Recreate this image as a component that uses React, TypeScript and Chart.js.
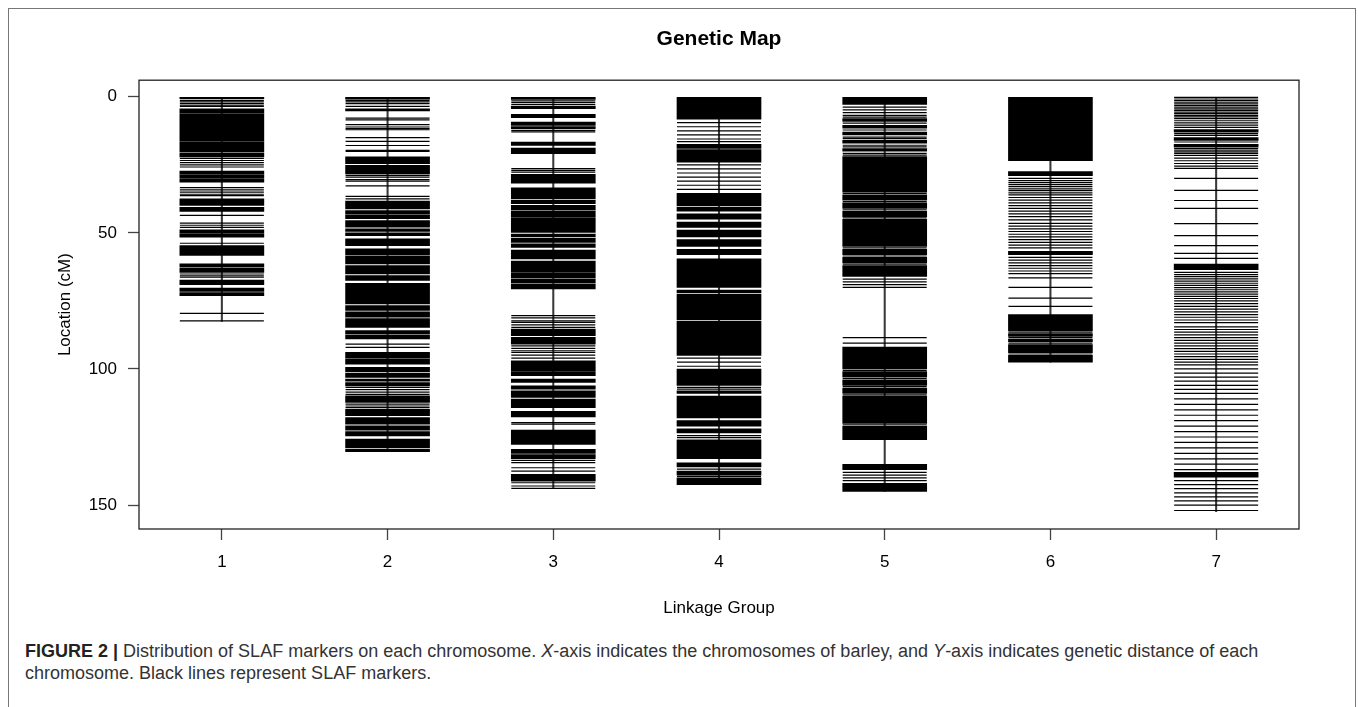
import React, { useEffect, useRef } from 'react';
import { Chart, registerables } from 'chart.js';

Chart.register(...registerables);

// ---------------- data ----------------
const groups = ['1', '2', '3', '4', '5', '6', '7'];
const chromosomeLengths = [82.5, 130.4, 144.0, 142.5, 145.0, 97.5, 152.4];
const yTicks = [0, 50, 100, 150];

// dense marker clusters [start cM, end cM]
const chr1Blocks = [[0, 0.7], [4.4, 6.0], [6.3, 16.4], [16.7, 20.3], [20.8, 22.1], [27.3, 28.4], [28.7, 30.0], [30.3, 31.4], [37.5, 39.9], [40.6, 42.1], [48.9, 50.2], [50.5, 51.6], [54.7, 58.3], [61.4, 62.6], [63.0, 64.5], [67.3, 69.0], [70.3, 71.5], [71.9, 73.1]];
const chr1Markers = [1.3, 1.9, 2.5, 3.1, 3.5, 22.6, 23.4, 24.2, 25.0, 25.8, 33.4, 34.2, 35.0, 35.8, 36.3, 43.6, 46.4, 47.2, 48.0, 53.8, 65.1, 65.8, 66.3, 79.6, 82.3];

const chr2Blocks = [[0, 0.9], [4.4, 5.2], [22.1, 24.6], [25.2, 28.3], [38.3, 41.2], [41.8, 43.0], [43.4, 44.8], [45.5, 47.9], [48.5, 49.5], [50.0, 51.0], [52.2, 54.7], [55.9, 58.0], [58.4, 61.4], [62.0, 65.1], [65.7, 67.5], [68.5, 76.1], [76.7, 78.5], [79.0, 81.0], [81.5, 84.7], [85.9, 87.0], [87.5, 89.0], [93.9, 96.0], [96.4, 98.2], [99.4, 101.0], [101.5, 103.1], [103.7, 104.5], [105.0, 106.2], [109.9, 112.3], [114.8, 117.2], [117.9, 120.3], [120.9, 122.5], [123.0, 124.6], [125.8, 128.9], [129.4, 130.4]];
const chr2Markers = [1.3, 1.9, 2.5, 3.5, 7.8, 8.5, 10.2, 11.1, 11.7, 12.1, 15.0, 16.4, 17.9, 19.7, 20.1, 28.9, 29.5, 30.4, 31.0, 32.7, 36.6, 37.5, 90.9, 92.1, 106.8, 107.6, 108.5, 109.3, 112.9, 113.6, 114.2];

const chr3Blocks = [[0, 1.0], [3.4, 4.4], [6.4, 7.7], [9.3, 10.5], [10.9, 11.7], [16.6, 17.9], [18.8, 20.9], [28.5, 31.7], [33.4, 37.5], [38.0, 39.3], [39.9, 41.5], [41.9, 44.0], [44.4, 45.5], [45.7, 49.8], [50.4, 51.5], [52.0, 53.5], [54.0, 55.3], [56.3, 59.6], [60.4, 64.5], [64.9, 66.5], [66.9, 68.5], [68.9, 70.6], [85.3, 87.8], [88.4, 90.9], [97.0, 100.7], [101.0, 102.5], [103.7, 104.9], [106.2, 107.4], [108.0, 110.5], [111.1, 114.2], [115.6, 117.6], [122.5, 127.7], [129.5, 131.0], [131.5, 133.0], [138.7, 141.2]];
const chr3Markers = [1.5, 2.1, 2.8, 12.3, 12.9, 26.4, 27.0, 27.7, 80.4, 81.2, 82.3, 82.9, 83.8, 84.7, 91.5, 92.4, 93.3, 93.9, 94.9, 96.0, 119.7, 120.3, 133.6, 134.4, 136.3, 137.5, 141.8, 143.0, 143.9];

const chr4Blocks = [[0, 8.2], [17.5, 19.0], [19.4, 24.0], [35.5, 40.0], [40.5, 42.0], [43.0, 45.0], [46.0, 48.0], [49.0, 51.5], [52.5, 55.0], [56.0, 58.0], [59.5, 70.0], [71.0, 72.0], [72.5, 82.0], [82.5, 95.0], [100.0, 106.0], [108.0, 109.0], [110.0, 118.0], [119.0, 121.0], [122.0, 123.5], [126.0, 133.0], [134.5, 136.0], [137.5, 139.0], [140.0, 142.5]];
const chr4Markers = [9.5, 11.0, 12.5, 14.0, 15.5, 16.5, 25.0, 26.5, 28.0, 29.5, 31.0, 32.5, 34.0, 96.0, 97.5, 99.0, 106.8, 107.4, 124.5, 125.2, 136.8, 139.5];

const chr5Blocks = [[0, 2.8], [8.0, 9.0], [10.5, 11.5], [13.0, 14.0], [16.0, 17.0], [19.0, 20.0], [22.0, 35.0], [36.0, 38.0], [39.0, 41.0], [42.0, 44.0], [45.0, 55.0], [56.0, 58.0], [59.0, 61.0], [62.0, 66.0], [92.0, 100.0], [101.0, 103.0], [104.0, 106.0], [107.0, 109.0], [110.0, 120.0], [121.0, 126.0], [135.0, 137.0], [142.0, 145.0]];
const chr5Markers = [3.8, 4.8, 5.8, 6.8, 7.5, 9.7, 12.2, 14.8, 15.4, 17.8, 18.4, 20.8, 21.4, 35.5, 38.5, 41.5, 44.5, 55.5, 58.5, 61.5, 67.0, 68.0, 69.0, 70.0, 88.5, 90.5, 100.5, 103.5, 106.5, 109.5, 120.5, 138.0, 139.0, 140.0, 141.0];

const chr6Blocks = [[0, 23.5], [27.5, 29.0], [56.8, 58.0], [80.0, 86.0], [87.0, 88.0], [89.0, 90.0], [91.0, 94.0], [95.0, 97.5]];
const chr6Markers = [30.0, 30.8, 31.5, 32.3, 33.0, 33.8, 34.5, 35.3, 36.0, 37.0, 38.0, 39.0, 40.0, 41.0, 42.0, 43.0, 44.0, 45.2, 46.5, 47.5, 48.5, 49.5, 50.5, 51.5, 52.5, 53.5, 54.5, 55.5, 59.0, 60.0, 61.0, 62.0, 63.0, 64.0, 65.0, 66.5, 70.0, 74.0, 77.0, 86.5, 88.5, 90.5, 94.5];

const chr7Blocks = [[12.0, 13.0], [15.0, 16.0], [17.5, 18.5], [61.5, 63.5], [138.0, 139.8]];
const chr7Markers = [0.2, 0.8, 1.4, 2.0, 2.6, 3.2, 3.8, 4.4, 5.0, 5.6, 6.2, 6.8, 7.4, 8.0, 8.8, 9.6, 10.4, 11.2, 13.5, 14.2, 16.6, 19.0, 19.6, 20.2, 20.8, 21.5, 22.5, 23.5, 24.5, 25.5, 26.3, 30.0, 34.4, 38.1, 41.0, 46.6, 51.0, 54.7, 57.5, 59.4, 64.5, 65.3, 66.1, 66.9, 67.7, 68.5, 69.3, 70.1, 70.9, 71.7, 72.5, 73.3, 74.1, 75.0, 76.0, 77.0, 78.0, 79.0, 80.0, 81.0, 82.0, 83.0, 84.5, 85.5, 86.5, 87.5, 88.5, 89.5, 90.5, 91.5, 92.5, 93.5, 94.5, 95.5, 96.5, 97.5, 98.5, 100.0, 101.5, 103.0, 104.5, 106.0, 107.5, 109.0, 111.0, 113.0, 115.0, 117.0, 119.0, 121.0, 123.0, 125.0, 127.0, 129.0, 131.0, 133.0, 135.0, 137.0, 141.0, 142.5, 144.0, 145.5, 147.0, 148.5, 150.0, 152.0];

const FONT = '"Liberation Sans", Arial, Helvetica, sans-serif';

const boxPlugin = {
  id: 'plotBox',
  afterDatasetsDraw(chart: any) {
    const { ctx, chartArea } = chart;
    ctx.save();
    ctx.strokeStyle = '#222';
    ctx.lineWidth = 1.3;
    ctx.strokeRect(chartArea.left, chartArea.top, chartArea.right - chartArea.left, chartArea.bottom - chartArea.top);
    ctx.restore();
  },
};

export default function App() {
  const ref = useRef<HTMLCanvasElement>(null);

  useEffect(() => {
    const blocks = [chr1Blocks, chr2Blocks, chr3Blocks, chr4Blocks, chr5Blocks, chr6Blocks, chr7Blocks];
    const markers = [chr1Markers, chr2Markers, chr3Markers, chr4Markers, chr5Markers, chr6Markers, chr7Markers];
    const blockData = blocks.flatMap((bl, i) => bl.map(([a, b]) => ({ x: i + 1, y: [a, b] })));
    const markerData = markers.flatMap((m, i) => m.map((p) => ({ x: i + 1, y: p })));
    const stemData = chromosomeLengths.map((len, i) => ({ x: i + 1, y: [0, len] }));

    const tickFont = { family: FONT, size: 17 };
    const gridCfg = {
      display: true,
      drawOnChartArea: false,
      drawTicks: true,
      tickLength: 11,
      tickColor: '#444',
      tickWidth: 1.3,
      offset: false,
    };

    const chart = new Chart(ref.current as HTMLCanvasElement, {
      type: 'bar',
      data: {
        datasets: [
          {
            type: 'scatter',
            data: markerData as any,
            pointStyle: 'line',
            pointRadius: 42,
            pointHoverRadius: 42,
            borderColor: '#000',
            backgroundColor: '#000',
            borderWidth: 1.2,
            order: 0,
          } as any,
          {
            type: 'bar',
            data: blockData as any,
            backgroundColor: '#000',
            borderWidth: 0,
            barThickness: 84,
            grouped: false,
            order: 1,
          } as any,
          {
            type: 'bar',
            data: stemData as any,
            backgroundColor: '#3a3a3a',
            borderWidth: 0,
            barThickness: 1.4,
            grouped: false,
            order: 2,
          } as any,
        ],
      },
      options: {
        responsive: false,
        animation: false,
        devicePixelRatio: 1,
        events: [],
        layout: { padding: { left: 55, right: 59, top: 0, bottom: 9 } },
        scales: {
          x: {
            type: 'linear',
            min: 0.5,
            max: 7.5,
            offset: false,
            grid: gridCfg as any,
            border: { display: false },
            afterBuildTicks: (s: any) => {
              s.ticks = groups.map((_, i) => ({ value: i + 1 }));
            },
            afterFit: (s: any) => {
              s.height = 92;
            },
            ticks: {
              font: tickFont,
              color: '#000',
              padding: 12,
              maxRotation: 0,
              autoSkip: false,
              callback: (_v: any, i: number) => groups[i],
            },
            title: {
              display: true,
              text: 'Linkage Group',
              font: tickFont,
              color: '#000',
              padding: { top: 0, bottom: 2 },
            },
          },
          y: {
            type: 'linear',
            reverse: true,
            min: -6.1,
            max: 158.8,
            grid: gridCfg as any,
            border: { display: false },
            afterBuildTicks: (s: any) => {
              s.ticks = yTicks.map((v) => ({ value: v }));
            },
            afterFit: (s: any) => {
              s.width = 84;
            },
            ticks: {
              font: tickFont,
              color: '#000',
              padding: 11,
              callback: (v: any) => String(v),
            },
            title: {
              display: true,
              text: 'Location (cM)',
              font: tickFont,
              color: '#000',
              padding: 0,
            },
          },
        },
        plugins: {
          legend: { display: false },
          tooltip: { enabled: false },
          title: {
            display: true,
            fullSize: false,
            text: 'Genetic Map',
            font: { family: FONT, size: 21, weight: 'bold' },
            color: '#000',
            padding: { top: 27, bottom: 28 },
          },
        },
      },
      plugins: [boxPlugin],
    });
    return () => chart.destroy();
  }, []);

  return (
    <div style={{ position: 'fixed', left: 0, top: 0, width: 1358, height: 707, overflow: 'hidden', background: '#fff' }}>
      <div
        style={{
          position: 'absolute',
          left: 8,
          top: 8,
          width: 1346,
          height: 720,
          borderLeft: '1.5px solid #777',
          borderTop: '1.5px solid #777',
          borderRight: '1.5px solid #777',
        }}
      />
      <canvas ref={ref} width={1358} height={630} style={{ position: 'absolute', left: 0, top: 0, width: 1358, height: 630 }} />
      <div
        style={{
          position: 'absolute',
          left: 25,
          top: 640,
          width: 1320,
          fontFamily: FONT,
          fontSize: 18,
          lineHeight: '22px',
          color: '#333',
          whiteSpace: 'nowrap',
        }}
      >
        <b style={{ color: '#222' }}>FIGURE 2 |</b> Distribution of SLAF markers on each chromosome. <i>X</i>-axis indicates the
        chromosomes of barley, and <i>Y</i>-axis indicates genetic distance of each
        <br />
        chromosome. Black lines represent SLAF markers.
      </div>
    </div>
  );
}
